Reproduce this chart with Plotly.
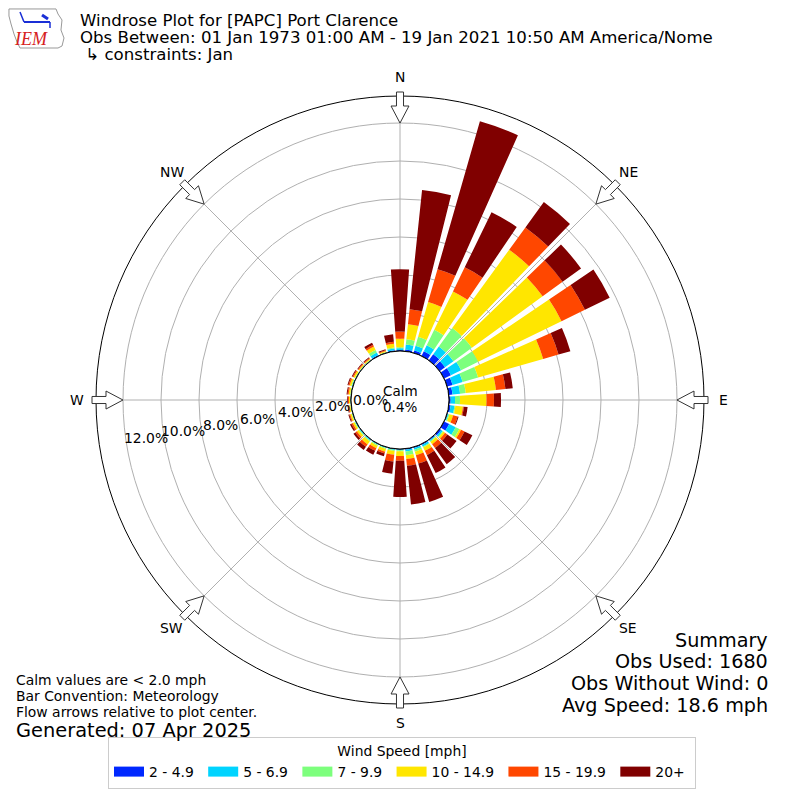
import math
import plotly.graph_objects as go

# %% data ------------------------------------------------------------
directions = list(range(0, 360, 10))

speed_bins = ['2 - 4.9', '5 - 6.9', '7 - 9.9', '10 - 14.9', '15 - 19.9', '20+']
bin_colors = ['#0028ff', '#00d4ff', '#7dff7d', '#ffe600', '#ff4700', '#800000']

# percent of obs per direction, one list per speed bin
pct_2_5 = [0.05, 0.09, 0.13, 0.28, 0.40, 0.35, 0.40, 0.30, 0.20, 0.09, 0.10, 0.03,
           0.30, 0.10, 0.05, 0.05, 0.05, 0.05, 0.02, 0.02, 0.02, 0.02, 0.02, 0.02,
           0.02, 0.01, 0.01, 0.01, 0.01, 0.02, 0.01, 0.01, 0.01, 0.05, 0.01, 0.05]
pct_5_7 = [0.10, 0.27, 0.26, 0.35, 0.50, 0.55, 0.60, 0.55, 0.40, 0.23, 0.20, 0.05,
           0.38, 0.10, 0.05, 0.10, 0.10, 0.10, 0.05, 0.05, 0.03, 0.03, 0.05, 0.04,
           0.03, 0.03, 0.02, 0.02, 0.02, 0.03, 0.02, 0.02, 0.02, 0.15, 0.02, 0.10]
pct_7_10 = [0.05, 0.27, 0.49, 0.90, 1.20, 1.20, 1.00, 0.85, 0.30, 0.26, 0.05, 0.05,
            0.22, 0.05, 0.05, 0.05, 0.10, 0.20, 0.05, 0.05, 0.05, 0.05, 0.05, 0.05,
            0.04, 0.03, 0.02, 0.02, 0.03, 0.04, 0.03, 0.02, 0.02, 0.15, 0.02, 0.05]
pct_10_15 = [0.45, 0.80, 1.90, 2.25, 5.10, 4.60, 4.88, 3.56, 1.60, 1.40, 0.40, 0.20,
             0.10, 0.10, 0.15, 0.20, 0.20, 0.20, 0.25, 0.20, 0.15, 0.15, 0.20, 0.12,
             0.10, 0.08, 0.06, 0.06, 0.08, 0.09, 0.08, 0.06, 0.06, 0.20, 0.05, 0.20]
pct_15_20 = [0.37, 0.80, 1.80, 1.41, 1.45, 1.30, 1.37, 0.84, 0.50, 0.39, 0.05, 0.25,
             0.20, 0.15, 0.25, 0.25, 0.45, 0.35, 0.25, 0.36, 0.10, 0.15, 0.15, 0.10,
             0.08, 0.05, 0.05, 0.05, 0.06, 0.07, 0.06, 0.05, 0.05, 0.10, 0.04, 0.10]
pct_20 = [3.28, 6.30, 8.10, 3.22, 1.65, 1.20, 1.45, 0.65, 0.39, 0.37, 0.20, 0.05,
          0.46, 0.60, 1.05, 1.05, 2.10, 2.05, 1.90, 0.64, 0.15, 0.23, 0.20, 0.12,
          0.08, 0.05, 0.04, 0.04, 0.05, 0.05, 0.05, 0.04, 0.04, 0.13, 0.06, 0.40]

compass_vals = [0, 45, 90, 135, 180, 225, 270, 315]
compass_text = ['N', 'NE', 'E', 'SE', 'S', 'SW', 'W', 'NW']
rtick_vals = [0, 2, 4, 6, 8, 10, 12]

calm_pct = 0.4
summary = ['Summary', 'Obs Used: 1680', 'Obs Without Wind: 0', 'Avg Speed: 18.6 mph']
notes = ['Calm values are < 2.0 mph', 'Bar Convention: Meteorology',
         'Flow arrows relative to plot center.']

# %% geometry (pixels, 800x800 page) ----------------------------------
W = H = 800
CX, CY = 400, 400
R_OUT = 304          # outer circle
R_HOLE = 49          # calm circle
PX_PER_PCT = 19
R_MAX = (R_OUT - R_HOLE) / PX_PER_PCT
FONT = 'DejaVu Sans'


def px(x):
    return x / W


def py(y):
    return 1 - y / H


def polar_px(angle, dist, cy=CY):
    a = math.radians(angle)
    return CX + dist * math.sin(a), cy - dist * math.cos(a)


def label(x, y, text, size, xanchor='center', **kw):
    return dict(x=px(x), y=py(y), text=text, showarrow=False, xref='paper', yref='paper',
                xanchor=xanchor, yanchor='middle', font=dict(size=size, **kw))


fig = go.Figure()

series = [pct_2_5, pct_5_7, pct_7_10, pct_10_15, pct_15_20, pct_20]
for name, color, vals in zip(speed_bins, bin_colors, series):
    fig.add_trace(go.Barpolar(
        r=vals, theta=directions, width=8, name=name, showlegend=False,
        marker=dict(color=color, line=dict(width=0)),
    ))
    # legend swatch (wide rectangle like the matplotlib legend)
    fig.add_trace(go.Scatterpolar(
        r=[None], theta=[None], mode='lines', name=name + '\u00a0',
        line=dict(color=color, width=10), hoverinfo='skip',
    ))

# calm circle outline
fig.add_trace(go.Scatterpolar(
    r=[0] * 73, theta=list(range(0, 365, 5)), mode='lines',
    line=dict(color='black', width=1), showlegend=False, hoverinfo='skip',
))

fig.update_layout(
    width=W, height=H,
    margin=dict(l=0, r=0, t=0, b=0),
    paper_bgcolor='white',
    font=dict(family=FONT, size=13, color='black'),
    polar=dict(
        domain=dict(x=[px(CX - R_OUT), px(CX + R_OUT)], y=[py(CY + R_OUT), py(CY - R_OUT)]),
        hole=R_HOLE / R_OUT,
        bgcolor='white',
        barmode='stack',
        radialaxis=dict(range=[0, R_MAX], tickvals=rtick_vals[1:], showticklabels=False,
                        ticks='', showline=False, gridcolor='#b0b0b0', gridwidth=1,
                        layer='above traces'),
        angularaxis=dict(rotation=90, direction='clockwise', tickvals=compass_vals,
                         showticklabels=False, ticks='', showline=True, linecolor='black',
                         linewidth=1, gridcolor='#b0b0b0', gridwidth=1,
                         layer='above traces'),
    ),
    legend=dict(
        orientation='h', x=0.5025, xanchor='center', y=py(789), yanchor='bottom',
        bordercolor='#cccccc', borderwidth=1, font=dict(size=13.9),
        title=dict(text='Wind Speed [mph]', side='top center', font=dict(size=13.9)),
        itemclick=False, itemwidth=30,
    ),
)

# flow arrows on the outer ring
shapes = []
for ang in compass_vals:
    a = math.radians(ang)
    ux, uy = math.sin(a), -math.cos(a)      # outward
    vx, vy = math.cos(a), math.sin(a)       # perpendicular

    def pt(d, w):
        return px(CX + d * ux + w * vx), py(CY + d * uy + w * vy)
    pts = [pt(277, 0), pt(294, 9), pt(294, 3.5), pt(308, 3.5),
           pt(308, -3.5), pt(294, -3.5), pt(294, -9)]
    path = 'M ' + ' L '.join(f'{x:.4f},{y:.4f}' for x, y in pts) + ' Z'
    shapes.append(dict(type='path', path=path, xref='paper', yref='paper',
                       fillcolor='white', line=dict(color='#333333', width=1)))

# rough IEM logo outline
logo = [(9, 9), (56, 9), (58, 14), (62, 20), (61, 30), (64, 38), (62, 46), (58, 48),
        (20, 48), (17, 42), (14, 34), (11, 24), (9, 16)]
shapes.append(dict(type='path', xref='paper', yref='paper',
                   path='M ' + ' L '.join(f'{px(x):.4f},{py(y):.4f}' for x, y in logo) + ' Z',
                   line=dict(color='#999999', width=1)))
for (x0, y0, x1, y1, wd) in [(24, 22, 50, 22, 2), (20, 12, 24, 22, 1.5), (42, 15, 48, 19, 3),
                            (50, 22, 50, 28, 1.5)]:
    shapes.append(dict(type='line', xref='paper', yref='paper', x0=px(x0), y0=py(y0),
                       x1=px(x1), y1=py(y1), line=dict(color='#1a2fd6', width=wd)))
fig.update_layout(shapes=shapes)

ann = []
# compass labels outside the ring
for ang, txt in zip(compass_vals, compass_text):
    x, y = polar_px(ang, 323)
    ann.append(label(x, y, txt, 13.9))

# radial labels
for v in rtick_vals:
    x, y = polar_px(260.5, R_HOLE + v * PX_PER_PCT - 19, cy=395)
    ann.append(label(x, y, f'{v:.1f}%', 13.9))

ann.append(label(CX, 391, 'Calm', 13.5))
ann.append(label(CX, 407, f'{calm_pct:.1f}%', 13.5))

titles = ['Windrose Plot for [PAPC] Port Clarence',
          'Obs Between: 01 Jan 1973 01:00 AM - 19 Jan 2021 10:50 AM America/Nome',
          ' \u21b3 constraints: Jan']
for i, t in enumerate(titles):
    ann.append(label(78, 20 + 17.5 * i, t, 16.6, xanchor='left'))

for i, t in enumerate(summary):
    ann.append(label(770, 640 + 21.8 * i, t, 19.2, xanchor='right'))

for i, t in enumerate(notes):
    ann.append(label(14, 680 + 16 * i, t, 13.9, xanchor='left'))
ann.append(label(14, 730, 'Generated: 07 Apr 2025', 19.4, xanchor='left'))

ann.append(label(31, 39, '<i>IEM</i>', 18, family='Liberation Serif', color='#d62020'))

fig.update_layout(annotations=ann)

fig.write_html('out.html', config={'displayModeBar': False},
               post_script="document.body.style.margin='0px';")
